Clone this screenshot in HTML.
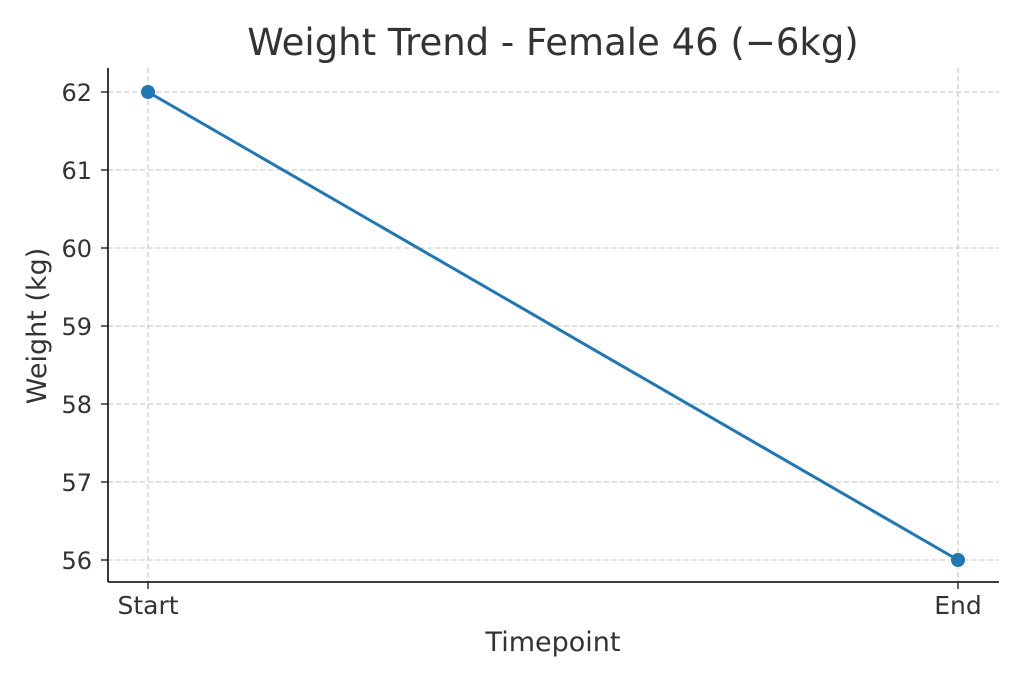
<!DOCTYPE html>
<html><head><meta charset="utf-8"><style>
body{margin:0;background:#fff;}
svg text{font-family:"DejaVu Sans","Liberation Sans",sans-serif;fill:#333;}
</style></head><body>
<svg id="chart" width="1024" height="683">
<text x="553" y="55" font-size="37" text-anchor="middle">Weight Trend - Female 46 (−6kg)</text>
<g id="grid"></g>
<g id="axes"></g>
<g id="series"></g>
<text x="553" y="651" font-size="27" text-anchor="middle">Timepoint</text>
<text transform="translate(46,326) rotate(-90)" font-size="27" text-anchor="middle">Weight (kg)</text>
</svg>
<script>
const categories = ["Start", "End"];
const weights = [62, 56];
const yTicks = [56, 57, 58, 59, 60, 61, 62];

const NS = "http://www.w3.org/2000/svg";
const L = 108, R = 999, T = 68, B = 582;
function xScale(i){ return 148 + i * (958 - 148) / (categories.length - 1); }
function yScale(v){ return 560 + (v - 56) * (92 - 560) / 6; }
function mk(tag, attrs, parent){
  const e = document.createElementNS(NS, tag);
  for (const k in attrs) e.setAttribute(k, attrs[k]);
  parent.appendChild(e); return e;
}
const grid = document.getElementById('grid'), axes = document.getElementById('axes'), series = document.getElementById('series');
yTicks.forEach(v => {
  const y = yScale(v);
  const g = mk('line', {x1:L, x2:R, y1:y, y2:y, stroke:'#c4c4c4', 'stroke-dasharray':'5,3', 'stroke-width':1.1}, grid);
  
  
  const t = mk('line', {x1:L-7, x2:L, y1:y, y2:y, stroke:'#222', 'stroke-width':1.4}, axes);
  
  
  const lb = mk('text', {x:L-16, y:y+9, 'font-size':24, 'text-anchor':'end'}, axes);
  lb.textContent = v;
  
  
});
categories.forEach((c, i) => {
  const x = xScale(i);
  const g = mk('line', {x1:x, x2:x, y1:T, y2:B, stroke:'#c4c4c4', 'stroke-dasharray':'5,3', 'stroke-width':1.1}, grid);
  
  
  const t = mk('line', {x1:x, x2:x, y1:B, y2:B+7, stroke:'#222', 'stroke-width':1.4}, axes);
  
  
  const lb = mk('text', {x:x, y:B+32, 'font-size':25, 'text-anchor':'middle'}, axes);
  lb.textContent = c;
  
  
});
const ls = mk('line', {x1:L, x2:L, y1:T, y2:B, stroke:'#222', 'stroke-width':1.8}, axes);


const bs = mk('line', {x1:L, x2:R, y1:B, y2:B, stroke:'#222', 'stroke-width':1.8}, axes);


const pts = weights.map((w, i) => xScale(i) + ',' + yScale(w)).join(' ');
const pl = mk('polyline', {points:pts, fill:'none', stroke:'#1f77b4', 'stroke-width':3}, series);


weights.forEach((w, i) => {
  const c = mk('circle', {cx:xScale(i), cy:yScale(w), r:7, fill:'#1f77b4'}, series);
  
  
});
</script>
</body></html>
